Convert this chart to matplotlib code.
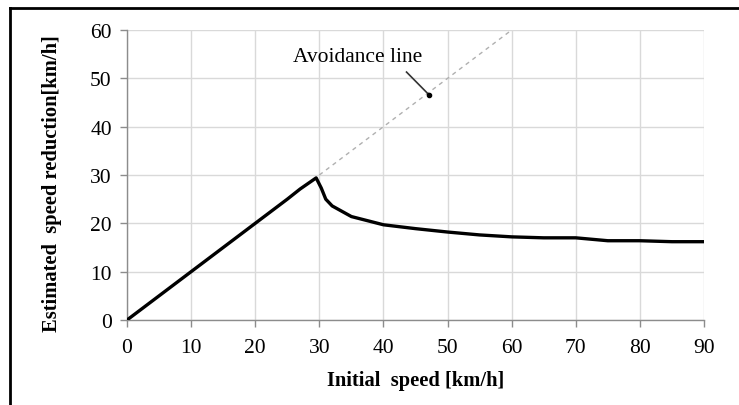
import matplotlib
matplotlib.use("Agg")
import matplotlib.pyplot as plt
from matplotlib.lines import Line2D

plt.rcParams["font.family"] = "Liberation Serif"

# Estimated speed reduction curve
speed = [0, 10, 20, 25, 27, 29.5, 30.3, 31, 32, 35, 40, 45, 50, 55, 60, 65, 70, 75, 80, 85, 90]
reduction = [0, 10, 20, 25, 27.1, 29.4, 27.3, 25.0, 23.6, 21.4, 19.7, 18.9, 18.2, 17.6, 17.2, 17.0, 17.0, 16.4, 16.4, 16.2, 16.2]

# Avoidance line (y = x) shown dashed above the peak
avoid_x = [30, 60]
avoid_y = [30, 60]

xticks = list(range(0, 91, 10))
yticks = list(range(0, 61, 10))

fig = plt.figure(figsize=(7.39, 4.06), dpi=100)
ax = fig.add_axes([0.1719, 0.2094, 0.7807, 0.7142])

ax.plot(avoid_x, avoid_y, color="#b0b0b0", lw=1.0, ls=(0, (3, 3)), zorder=2)
ax.plot(speed, reduction, color="black", lw=2.4, solid_joinstyle="round", zorder=3)

# label for the avoidance line, with a short leader to a dot on it
ax.text(35.9, 54.6, "Avoidance line", ha="center", va="center", fontsize=15.5)
ax.plot([43.6, 47.1], [51.3, 46.6], color="#333333", lw=1.2, zorder=4)
ax.plot([47.1], [46.6], "o", color="black", ms=3, zorder=4)

ax.set_xlim(0, 90)
ax.set_ylim(0, 60)
ax.set_xticks(xticks)
ax.set_yticks(yticks)
ax.grid(True, color="#d9d9d9", lw=1.0)
ax.set_axisbelow(True)
for s in ["top", "right"]:
    ax.spines[s].set_visible(False)
for s in ["left", "bottom"]:
    ax.spines[s].set_color("#8c8c8c")
    ax.spines[s].set_linewidth(1.0)
ax.tick_params(colors="#8c8c8c", length=5, width=1.0, labelsize=15.5, labelcolor="black", pad=6)
ax.tick_params(axis="x", pad=8)

ax.set_xlabel("Initial  speed [km/h]", fontsize=14.8, fontweight="bold", labelpad=9)
ax.set_ylabel("Estimated  speed reduction[km/h]", fontsize=14.8, fontweight="bold")
ax.yaxis.set_label_coords(-0.113, 0.472)

# frame around the figure (left and top edges visible)
fig.add_artist(Line2D([10 / 739, 10 / 739], [0, 1 - 9 / 406], color="black", lw=2.0, transform=fig.transFigure))
fig.add_artist(Line2D([10 / 739, 1], [1 - 9 / 406, 1 - 9 / 406], color="black", lw=2.0, transform=fig.transFigure))

fig.savefig("out.png", dpi=100)
